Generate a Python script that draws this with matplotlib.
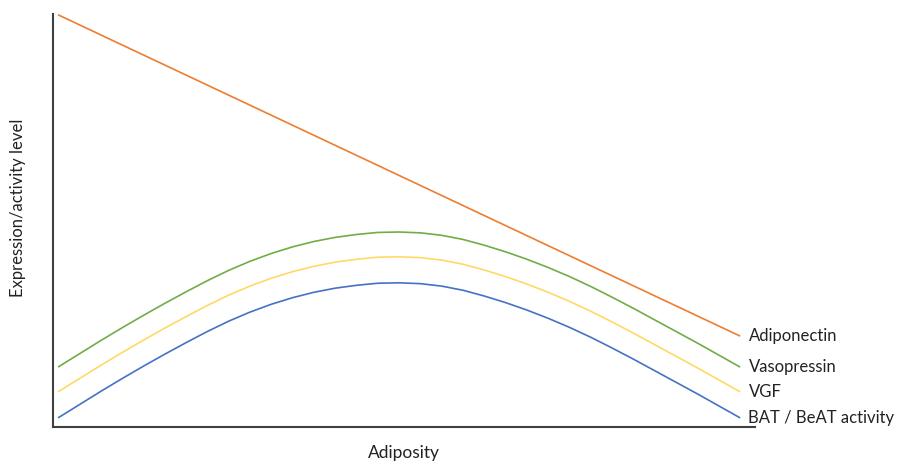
import matplotlib
matplotlib.use("Agg")
import matplotlib.pyplot as plt

# adiposity positions (arbitrary 0-100 scale)
adiposity = [i * 3.125 for i in range(33)]

# expression / activity level (arbitrary 0-100 scale)
bat = [2.2, 5.4, 8.6, 11.7, 14.7, 17.6, 20.4, 23.1, 25.6, 27.8, 29.7,
       31.3, 32.6, 33.6, 34.3, 34.8, 34.9, 34.7, 34.1, 33.1, 31.7, 30.1,
       28.3, 26.3, 24.1, 21.7, 19.1, 16.4, 13.6, 10.8, 8.0, 5.1, 2.2]
vgf = [8.5, 11.7, 14.9, 18.0, 21.0, 23.9, 26.7, 29.4, 31.9, 34.1, 36.0,
       37.6, 38.9, 39.9, 40.6, 41.1, 41.2, 41.0, 40.4, 39.4, 38.0, 36.4,
       34.6, 32.6, 30.4, 28.0, 25.4, 22.7, 19.9, 17.1, 14.3, 11.4, 8.5]
vasopressin = [14.5, 17.7, 20.9, 24.0, 27.0, 29.9, 32.7, 35.4, 37.9, 40.1, 42.0,
               43.6, 44.9, 45.9, 46.6, 47.1, 47.2, 47.0, 46.4, 45.4, 44.0, 42.4,
               40.6, 38.6, 36.4, 34.0, 31.4, 28.7, 25.9, 23.1, 20.3, 17.4, 14.5]
adipo_x = [0, 100]
adiponectin = [99.8, 22.0]

series = [
    ("Adiponectin", adipo_x, adiponectin, "#ED7D31"),
    ("Vasopressin", adiposity, vasopressin, "#70AD47"),
    ("VGF", adiposity, vgf, "#FFD966"),
    ("BAT / BeAT activity", adiposity, bat, "#4472C4"),
]

plt.rcParams['font.family'] = ['Lato', 'DejaVu Sans']

fig = plt.figure(figsize=(8.99, 4.61), dpi=100)
ax = fig.add_axes([0.059, 0.0738, 0.781, 0.896])

for name, xs, ys, col in series:
    ax.plot(xs, ys, color=col, lw=1.2, solid_capstyle='butt')
    ax.annotate(name, xy=(xs[-1], ys[-1]), xytext=(6, 0),
                textcoords='offset points', va='center', ha='left',
                fontsize=12, color='#222222', annotation_clip=False)

ax.set_xlim(-0.73, 102.2)
ax.set_ylim(0, 100)
for s in ['top', 'right']:
    ax.spines[s].set_visible(False)
for s in ['left', 'bottom']:
    ax.spines[s].set_color('#404040')
    ax.spines[s].set_linewidth(1.5)
ax.set_xticks([])
ax.set_yticks([])

ax.set_xlabel("Adiposity", fontsize=12.5, color='#222222', labelpad=13)
ax.set_ylabel("Expression/activity level", fontsize=12, color='#222222')
ax.yaxis.set_label_coords(-0.038, 0.53)

fig.savefig("out.png", dpi=100)
